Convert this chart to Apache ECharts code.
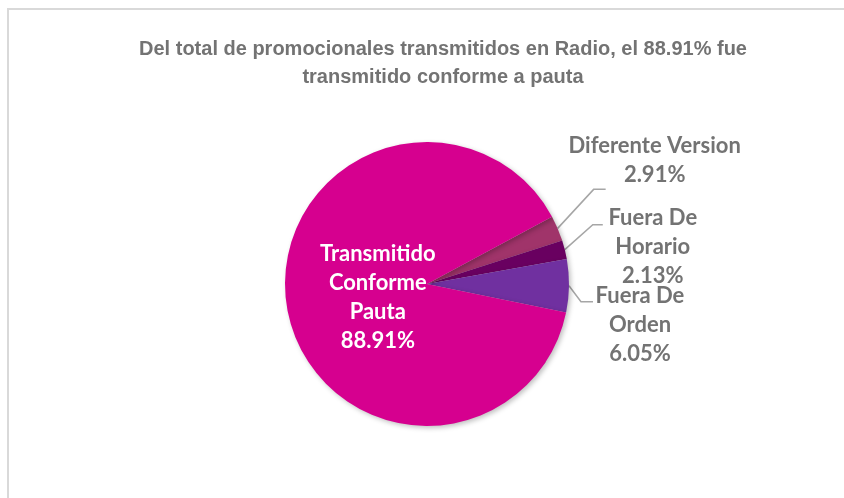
<!DOCTYPE html>
<html>
<head>
<meta charset="utf-8">
<script src="https://cdn.jsdelivr.net/npm/echarts@6/dist/echarts.min.js"></script>
<style>
html,body{margin:0;padding:0;background:#fff;}
#chart{width:844px;height:498px;}
</style>
</head>
<body>
<div id="chart"></div>
<script>
// ---- data ----
const titleText = 'Del total de promocionales transmitidos en Radio, el 88.91% fue\ntransmitido conforme a pauta';
const categories = ['Diferente Version', 'Fuera De Horario', 'Fuera De Orden', 'Transmitido Conforme Pauta'];
const labelTexts = [['Diferente Version'], ['Fuera De', 'Horario'], ['Fuera De', 'Orden'], ['Transmitido', 'Conforme', 'Pauta']];
const values = [2.91, 2.13, 6.05, 88.91];

// ---- style ----
const colors = ['#A0346A', '#690060', '#7030A0', '#D6008F'];
// label placement relative to the label-line start point: [kneeDx, kneeDy, endDx, labelDx, labelDy]
const placement = [
  [36, -39, 48, 97, -68],
  [28, -25, 38, 88, -3],
  [12, 16, 24, 71, 39]
];

const chart = echarts.init(document.getElementById('chart'), null, {renderer: 'canvas'});

const data = values.map((v, i) => {
  const item = {name: categories[i], value: v, itemStyle: {color: colors[i]}};
  if (i === 3) {
    item.label = {position: 'inside', color: '#ffffff'};
  }
  return item;
});

chart.setOption({
  backgroundColor: '#ffffff',
  graphic: [{
    type: 'rect',
    shape: {x: 8, y: 9, width: 900, height: 600},
    style: {fill: 'none', stroke: '#d9d9d9', lineWidth: 2},
    silent: true
  }],
  title: {
    text: titleText,
    left: 438,
    textAlign: 'center',
    top: 30,
    textStyle: {
      fontFamily: '"Liberation Sans Narrow", "Arial Narrow", "Liberation Sans", sans-serif',
      fontWeight: 'bold',
      fontSize: 20,
      lineHeight: 28,
      color: '#737373'
    }
  },
  series: [{
    type: 'pie',
    center: [427, 284],
    radius: 142,
    startAngle: 28.3,
    clockwise: true,
    avoidLabelOverlap: false,
    data: data,
    itemStyle: {
      shadowBlur: 5,
      shadowOffsetX: 2,
      shadowOffsetY: 2,
      shadowColor: 'rgba(0,0,0,0.25)'
    },
    label: {
      show: true,
      position: 'outside',
      fontFamily: 'Lato, "Open Sans", sans-serif',
      fontWeight: 'bold',
      fontSize: 22,
      lineHeight: 29,
      color: '#737373',
      align: 'center',
      formatter: p => labelTexts[p.dataIndex].join('\n') + '\n' + p.value.toFixed(2) + '%'
    },
    labelLine: {
      show: true,
      length: 20,
      length2: 12,
      lineStyle: {color: '#a6a6a6', width: 1.5}
    },
    labelLayout: function (params) {
      const i = params.dataIndex;
      if (i === 3) {
        const r = params.labelRect;
        return {
          x: r.x + r.width / 2 + 24,
          y: r.y + r.height / 2 + 3,
          align: 'center',
          verticalAlign: 'middle'
        };
      }
      const pts = params.labelLinePoints;
      if (!pts) return {};
      const p0 = pts[0];
      const c = placement[i];
      return {
        x: p0[0] + c[3],
        y: p0[1] + c[4],
        align: 'center',
        verticalAlign: 'middle',
        labelLinePoints: [
          [p0[0], p0[1]],
          [p0[0] + c[0], p0[1] + c[1]],
          [p0[0] + c[2], p0[1] + c[1]]
        ]
      };
    },
    emphasis: {disabled: true},
    animation: false
  }]
});
</script>
</body>
</html>
